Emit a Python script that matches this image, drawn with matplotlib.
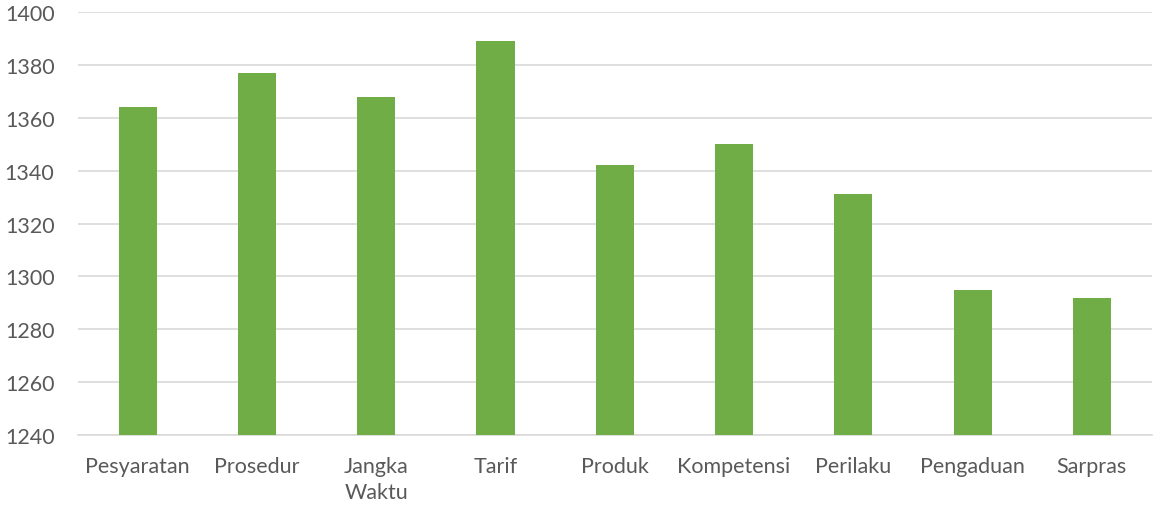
import matplotlib
matplotlib.use("Agg")
import matplotlib.pyplot as plt

categories = ["Pesyaratan", "Prosedur", "Jangka\nWaktu", "Tarif", "Produk",
              "Kompetensi", "Perilaku", "Pengaduan", "Sarpras"]
values = [1364, 1377, 1368, 1389, 1342, 1350, 1331, 1295, 1292]
yticks = [1240, 1260, 1280, 1300, 1320, 1340, 1360, 1380, 1400]

plt.rcParams['font.family'] = ['Lato', 'DejaVu Sans']
fig = plt.figure(figsize=(11.53, 5.10), dpi=100)
ax = fig.add_axes([0.0677, 0.145, 0.931, 0.8295])
x = list(range(len(categories)))
ax.bar(x, values, width=0.32, color="#70AD47", zorder=3)
ax.set_xlim(-0.5, len(categories) - 0.5)
ax.set_ylim(1240, 1400)
ax.set_yticks(yticks)
ax.set_xticks(x)
ax.set_xticklabels(categories, fontsize=15.5, color="#595959", linespacing=1.4)
ax.tick_params(axis='y', labelsize=15.5, labelcolor="#595959", length=0, pad=17)
ax.tick_params(axis='x', length=0, pad=15)
ax.grid(axis='y', color="#D9D9D9", linewidth=1.2, zorder=0)
for s in ['top', 'right', 'left']:
    ax.spines[s].set_visible(False)
ax.spines['bottom'].set_color("#D9D9D9")
ax.spines['bottom'].set_linewidth(1.2)
for lbl in ax.get_xticklabels():
    lbl.set_verticalalignment('top')
fig.savefig("out.png", dpi=100)
